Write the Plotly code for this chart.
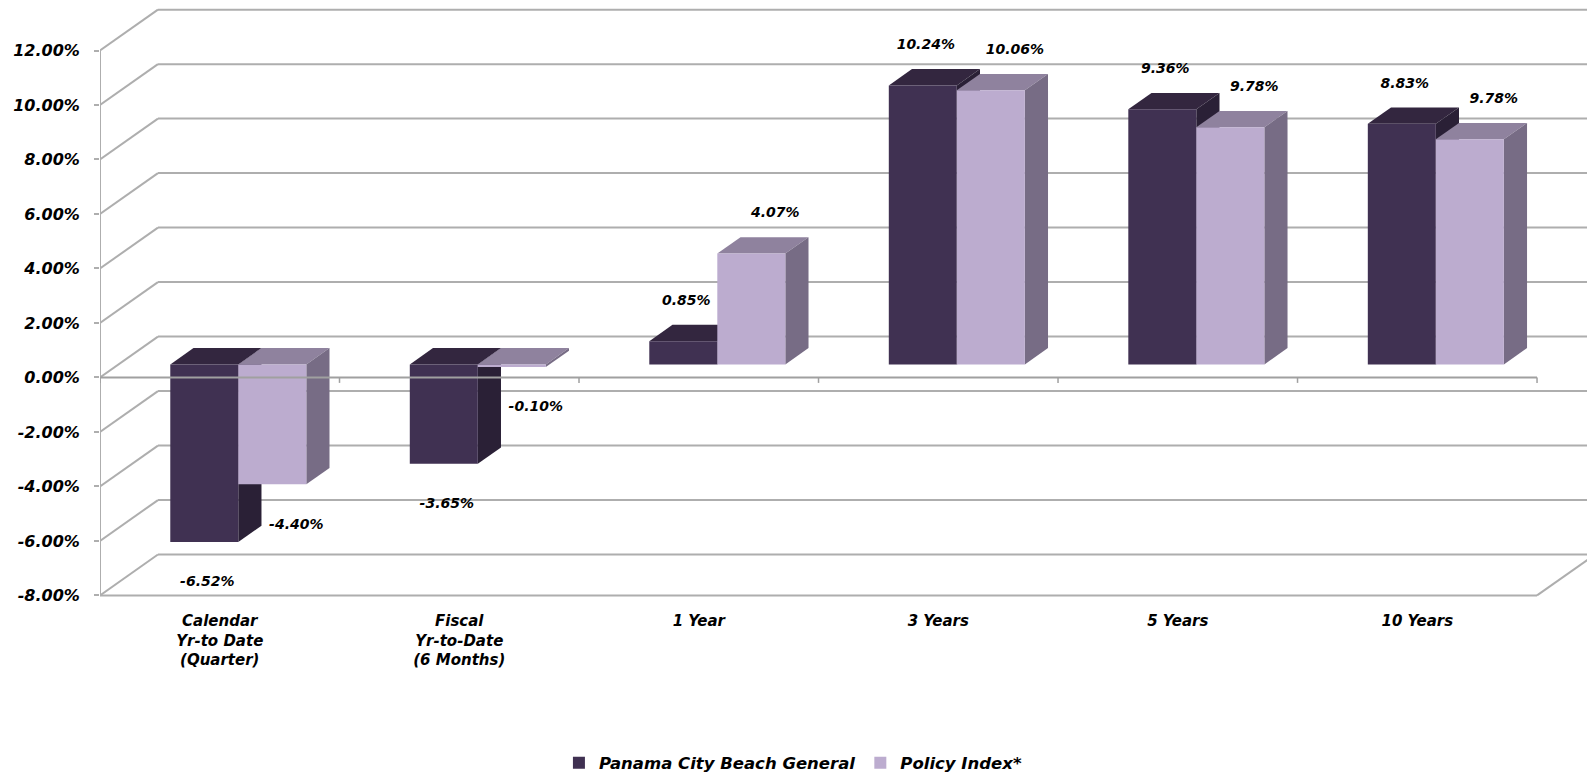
import plotly.graph_objects as go

# ---------------- data ----------------
categories = ["Calendar<br>Yr-to Date<br>(Quarter)", "Fiscal<br>Yr-to-Date<br>(6 Months)",
              "1 Year", "3 Years", "5 Years", "10 Years"]
series_names = ["Panama City Beach General", "Policy Index*"]
panama_values = [-6.52, -3.65, 0.85, 10.24, 9.36, 8.83]
policy_values = [-4.40, -0.10, 4.07, 10.06, 8.70, 8.26]
panama_labels = ["-6.52%", "-3.65%", "0.85%", "10.24%", "9.36%", "8.83%"]
policy_labels = ["-4.40%", "-0.10%", "4.07%", "10.06%", "9.78%", "9.78%"]
y_ticks = [-8, -6, -4, -2, 0, 2, 4, 6, 8, 10, 12]
y_tick_labels = ["-8.00%", "-6.00%", "-4.00%", "-2.00%", "0.00%", "2.00%",
                 "4.00%", "6.00%", "8.00%", "10.00%", "12.00%"]

# ---------------- styling / geometry ----------------
FONT = "DejaVu Sans"
front_colors = ["#403152", "#BCACCF"]
top_colors = ["#33263F", "#8F829E"]
side_colors = ["#2A2036", "#776C85"]
GRID = "#AEAEAE"

WALL_DX = 0.242      # depth offset of back wall (category units)
WALL_DY = 1.5        # depth offset of back wall (percent units)
D0, D1 = 0.32, 0.72  # bar depth fractions (front / back)
BAR_W = 0.284
FDX, FDY = D0 * WALL_DX, D0 * WALL_DY
SDX, SDY = (D1 - D0) * WALL_DX, (D1 - D0) * WALL_DY
X_MIN, X_MAX = -0.5, 5.742
Y_MIN, Y_MAX = -8.168, 13.56
PX_X = 239.5

n = len(categories)
ymin_t, ymax_t = y_ticks[0], y_ticks[-1]

fig = go.Figure()
shapes = []

def line(x0, y0, x1, y1, color=GRID, width=2, layer="below"):
    shapes.append(dict(type="line", x0=x0, y0=y0, x1=x1, y1=y1, xref="x", yref="y",
                       line=dict(color=color, width=width), layer=layer))

def poly(pts, color, layer="below"):
    path = "M " + " L ".join(f"{x},{y}" for x, y in pts) + " Z"
    shapes.append(dict(type="path", path=path, xref="x", yref="y",
                       fillcolor=color, line=dict(width=0), layer=layer))

# walls
for t in y_ticks:
    line(X_MIN, t, X_MIN + WALL_DX, t + WALL_DY)
    line(X_MIN + WALL_DX, t + WALL_DY, X_MAX + 0.1, t + WALL_DY)
line(X_MIN, ymin_t, X_MIN, ymax_t)
line(n - 0.5, ymin_t, n - 0.5 + WALL_DX, ymin_t + WALL_DY)

# bar 3D faces
all_vals = [panama_values, policy_values]
for c in range(n):
    for s in range(2):
        v = all_vals[s][c]
        xl = c + FDX + (s - 1) * BAR_W
        xr = xl + BAR_W
        top = max(v, 0) + FDY
        bot = min(v, 0) + FDY
        poly([(xl, top), (xr, top), (xr + SDX, top + SDY), (xl + SDX, top + SDY)], top_colors[s])
        poly([(xr, bot), (xr, top), (xr + SDX, top + SDY), (xr + SDX, bot + SDY)], side_colors[s])

# front axis lines (in front of bars)
line(X_MIN, 0, n - 0.5, 0, color="#A0A0A0", width=2, layer="above")
line(X_MIN, ymin_t, n - 0.5, ymin_t, color=GRID, width=2, layer="above")
for c in range(n + 1):
    line(c - 0.5, 0, c - 0.5, -0.2, color="#A0A0A0", width=1.5, layer="above")

# front faces (bar traces)
for s in range(2):
    xs = [c + FDX + (s - 1) * BAR_W + BAR_W / 2 for c in range(n)]
    fig.add_trace(go.Bar(x=xs, y=all_vals[s], base=[FDY] * n, width=[BAR_W] * n,
                         name=series_names[s], marker=dict(color=front_colors[s], line=dict(width=0)),
                         hoverinfo="skip"))

# data labels
label_sets = [panama_labels, policy_labels]
label_dx = [3 / PX_X, 24 / PX_X]
for s in range(2):
    xs, ys = [], []
    for c in range(n):
        v = all_vals[s][c]
        xs.append(c + FDX + (s - 1) * BAR_W + BAR_W / 2 + label_dx[s])
        ys.append(v + FDY + (1.45 if v >= 0 else -1.5))
    fig.add_trace(go.Scatter(x=xs, y=ys, mode="text", text=label_sets[s],
                             textfont=dict(size=14, color="#000000", family=FONT,
                                           weight="bold", style="italic"),
                             showlegend=False, hoverinfo="skip", cliponaxis=False))

fig.update_layout(
    width=1587, height=773,
    margin=dict(l=92, r=0, t=0, b=181),
    plot_bgcolor="white", paper_bgcolor="white",
    font=dict(family=FONT, size=16, color="#000000", weight="bold", style="italic"),
    barmode="overlay",
    shapes=shapes,
    showlegend=True,
    legend=dict(orientation="h", x=0.4635, xanchor="center", y=-0.2753, yanchor="middle",
                font=dict(size=16.5, family=FONT, weight="bold", style="italic")),
    xaxis=dict(range=[X_MIN, X_MAX], tickvals=list(range(n)), ticktext=categories,
               showgrid=False, zeroline=False, showline=False, ticks="",
               tickfont=dict(size=15), ticklabelstandoff=10, fixedrange=True,
               automargin=False),
    yaxis=dict(range=[Y_MIN, Y_MAX], tickvals=y_ticks, ticktext=y_tick_labels,
               showgrid=False, zeroline=False, showline=False, ticks="outside",
               ticklen=5, tickcolor=GRID, tickwidth=2, ticklabelstandoff=11,
               tickfont=dict(size=16), fixedrange=True, automargin=False),
)

fig.write_html("out.html", config={"displayModeBar": False})
